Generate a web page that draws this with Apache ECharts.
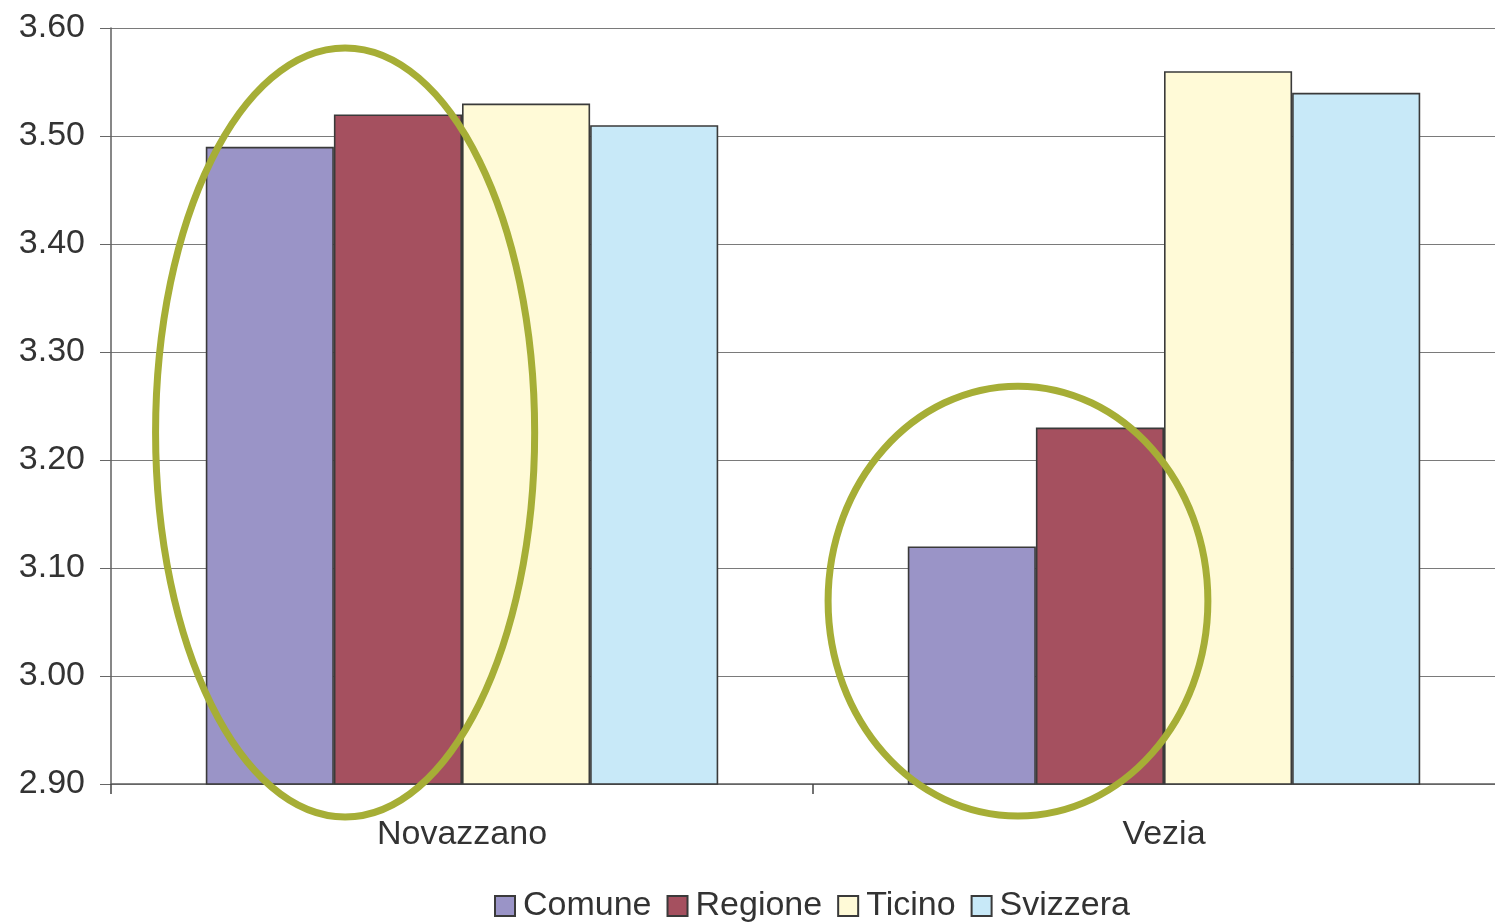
<!DOCTYPE html>
<html>
<head>
<meta charset="utf-8">
<script src="https://cdn.jsdelivr.net/npm/echarts@6/dist/echarts.min.js"></script>
<style>
html,body{margin:0;padding:0;background:#fff;overflow:hidden;}
#chart{width:1515px;height:922px;}
</style>
</head>
<body>
<div id="chart"></div>
<script>
const categories = ['Novazzano', 'Vezia'];
const seriesNames = ['Comune', 'Regione', 'Ticino', 'Svizzera'];
const comune = [3.49, 3.12];
const regione = [3.52, 3.23];
const ticino = [3.53, 3.56];
const svizzera = [3.51, 3.54];
const yTicks = ['2.90','3.00','3.10','3.20','3.30','3.40','3.50','3.60'];
// annotation ellipses: category index, x offset (fraction of band), centre y value, x radius (fraction of band), y radius (value units)
const ellipseCat = [0, 1];
const ellipseXOff = [-0.1665, -0.208];
const ellipseCY = [3.2255, 3.0694];
const ellipseRX = [0.27, 0.2705];
const ellipseRY = [0.356, 0.199];

const colors = ['#9A94C7', '#A5505F', '#FFFAD7', '#C8E9F8'];
const values = [comune, regione, ticino, svizzera];
const font = '"Liberation Sans", Arial, Helvetica, sans-serif';

const chart = echarts.init(document.getElementById('chart'));
const option = {
  animation: false,
  backgroundColor: '#fff',
  textStyle: { fontFamily: font },
  grid: { left: 111, top: 28, right: 0, bottom: 138, containLabel: false },
  legend: {
    data: seriesNames,
    top: 889,
    left: 494,
    icon: 'rect',
    itemWidth: 20,
    itemHeight: 20,
    itemGap: 15,
    padding: 0,
    textStyle: { fontSize: 34, color: '#333', fontFamily: font, padding: [0, 0, 0, 3] }
  },
  xAxis: {
    type: 'category',
    data: categories,
    boundaryGap: true,
    axisLine: { show: true, lineStyle: { color: '#5f5f5f', width: 1.5 } },
    axisTick: { show: true, length: 10, lineStyle: { color: '#444', width: 1.5 } },
    axisLabel: { fontSize: 34, color: '#333', margin: 34, fontFamily: font }
  },
  yAxis: {
    type: 'value',
    min: 2.9,
    max: 3.6,
    interval: 0.1,
    axisLine: { show: true, lineStyle: { color: '#5f5f5f', width: 1.5 } },
    axisTick: { show: true, length: 11, lineStyle: { color: '#666', width: 1 } },
    splitLine: { show: true, lineStyle: { color: '#7a7a7a', width: 1 } },
    axisLabel: {
      fontSize: 34, color: '#333', margin: 26, fontFamily: font, padding: [4, 0, 0, 0],
      formatter: function (v) {
        const idx = Math.round((v - 2.9) / 0.1);
        return yTicks[idx] !== undefined ? yTicks[idx] : v.toFixed(2);
      }
    }
  },
  series: seriesNames.map(function (name, i) {
    return {
      name: name,
      type: 'bar',
      data: values[i],
      barGap: '0%',
      barCategoryGap: '27%',
      itemStyle: { color: colors[i], borderColor: '#3a3a3a', borderWidth: 1.6 }
    };
  })
};
chart.setOption(option);

function drawEllipses() {
  const p0 = chart.convertToPixel({ xAxisIndex: 0 }, categories[0]);
  const p1 = chart.convertToPixel({ xAxisIndex: 0 }, categories[1]);
  const band = p1 - p0;
  const graphics = ellipseCat.map(function (c, i) {
    const cx = chart.convertToPixel({ xAxisIndex: 0 }, categories[c]) + ellipseXOff[i] * band;
    const cy = chart.convertToPixel({ yAxisIndex: 0 }, ellipseCY[i]);
    const top = chart.convertToPixel({ yAxisIndex: 0 }, ellipseCY[i] + ellipseRY[i]);
    return {
      type: 'ellipse',
      shape: { cx: cx, cy: cy, rx: ellipseRX[i] * band, ry: cy - top },
      style: { fill: null, stroke: '#A6AE36', lineWidth: 7 },
      z: 100
    };
  });
  chart.setOption({ graphic: graphics });
}
drawEllipses();
</script>
</body>
</html>
